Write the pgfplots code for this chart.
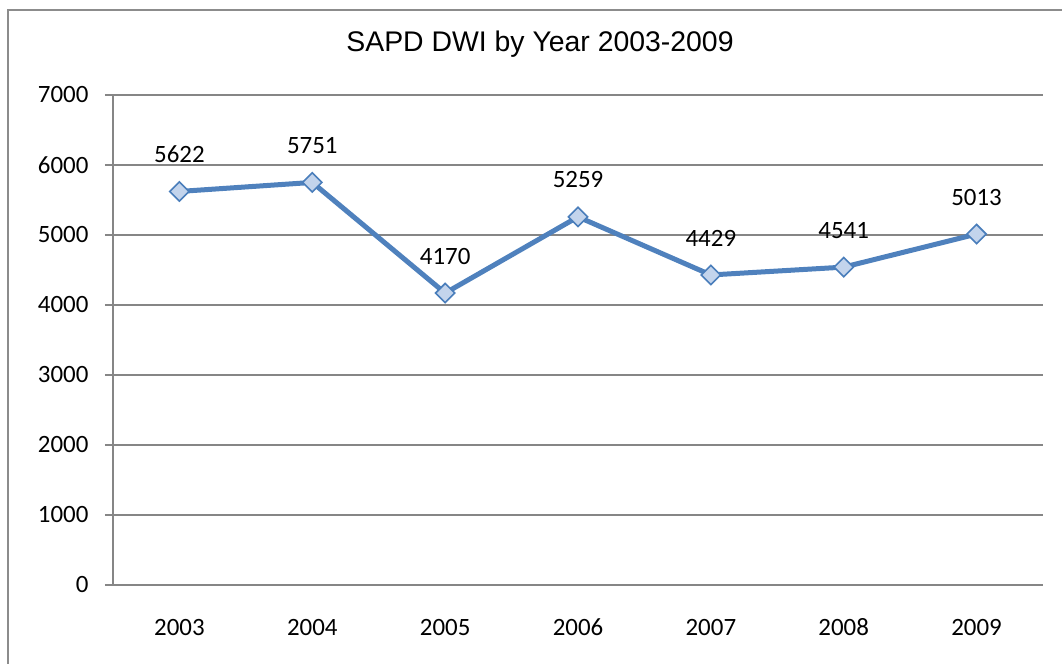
\documentclass[border=0pt]{standalone}
\usepackage{fontspec}
\setmainfont{Carlito}
\newfontfamily\titlefont{Liberation Sans}
\usepackage{pgfplots}
\pgfplotsset{compat=1.18}
\definecolor{lineblue}{HTML}{4F81BD}
\definecolor{markedge}{HTML}{4A7EBB}
\definecolor{markfill}{HTML}{C3D4EC}
\definecolor{gridgray}{HTML}{868686}
\definecolor{framegray}{HTML}{8C8C8C}
\begin{document}
\begin{tikzpicture}[x=1bp,y=1bp]
\useasboundingbox (0,0) rectangle (1062,664);
\clip (0,0) rectangle (1062,664);
% outer chart frame, cut at the right and bottom edges
\draw[framegray, line width=2bp] (8,-20) -- (8,654) -- (1100,654);
\node[font=\titlefont\fontsize{28.5}{34}\selectfont, anchor=base] at (540,612) {SAPD DWI by Year 2003-2009};
% categories sit at 0.5, 1.5, ... so that the data origin is the lower left corner of the box
\begin{axis}[
    at={(113bp,79bp)}, anchor=origin,
    scale only axis,
    width=930bp, height=490bp,
    xmin=0, xmax=7,
    ymin=0, ymax=7000,
    axis x line*=bottom, axis y line*=left,
    axis line style={gridgray, line width=1.3bp},
    tick align=outside,
    major tick length=8bp, minor tick length=8bp,
    tick style={gridgray, line width=1.3bp},
    xtick={0.5,1.5,...,6.5},
    xticklabels={2003,2004,2005,2006,2007,2008,2009},
    xtick style={draw=none},
    minor xtick={0,...,7},
    ytick={0,1000,...,7000},
    ymajorgrids,
    major grid style={gridgray, line width=1.3bp},
    /pgf/number format/1000 sep={},
    /pgf/number format/assume math mode=true,
    ticklabel style={font=\fontsize{25}{30}\selectfont, text=black},
    xticklabel style={anchor=base, yshift=-43bp},
    yticklabel style={xshift=-13bp},
    nodes near coords,
    every node near coord/.append style={anchor=center, yshift=37bp,
        font=\fontsize{25}{30}\selectfont, text=black},
    clip=false,
]
\addplot[lineblue, line width=5bp, mark=square*, mark size=6.8bp,
    mark options={rotate=45, draw=markedge, fill=markfill, line width=1.6bp}]
    coordinates {
    (0.5,5622) (1.5,5751) (2.5,4170) (3.5,5259) (4.5,4429) (5.5,4541) (6.5,5013)
};
\end{axis}
\end{tikzpicture}
\end{document}
